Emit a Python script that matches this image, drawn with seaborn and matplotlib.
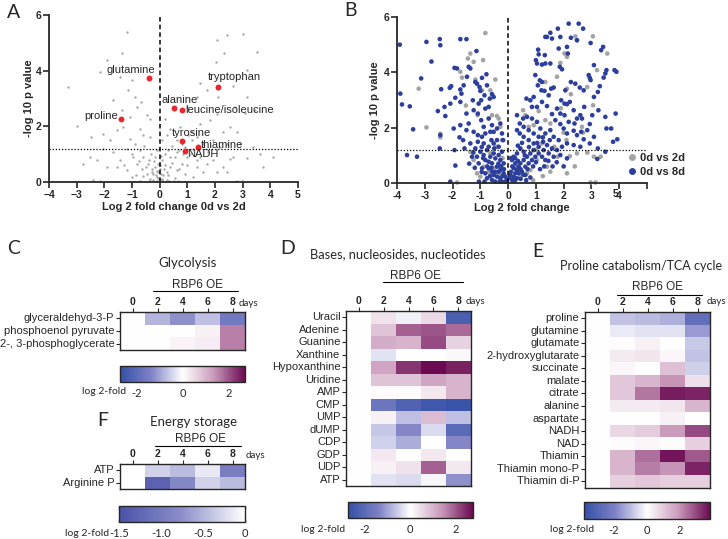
import numpy as np
import pandas as pd
import matplotlib
matplotlib.use('Agg')
import matplotlib.pyplot as plt
import seaborn as sns
from matplotlib.colors import LinearSegmentedColormap
from matplotlib.lines import Line2D

sns.set_style('ticks')
plt.rcParams['font.family'] = ['Liberation Sans', 'DejaVu Sans']
label_font = 'Lato'

# ---------------- volcano data ----------------
a_grey = [(-1.19, 5.4), (-1.89, 4.38), (-1.37, 4.65), (-3.3, 3.4), (-2.98, 2.0), (-2.49, 1.62), (-2.16, 3.96),
          (-1.43, 3.76), (-1.01, 3.66), (-1.13, 3.3), (-0.67, 2.88), (-0.47, 2.4), (-0.35, 2.28), (-0.71, 1.92),
          (2.42, 5.28), (3.02, 5.31), (2.06, 5.1), (3.51, 4.68), (2.33, 4.62), (2.02, 4.31), (3.14, 4.02),
          (2.66, 3.45), (3.08, 2.48), (2.06, 3.33), (2.12, 3.06), (1.46, 3.54), (1.7, 3.3), (1.34, 3.06),
          (0.98, 2.7), (0.5, 2.58), (0.19, 2.28), (0.37, 1.92), (0.73, 1.98), (1.16, 1.8), (1.46, 2.1),
          (1.94, 1.5), (2.18, 1.26), (2.66, 0.9), (3.14, 0.88), (3.63, 1.02), (2.06, 0.36), (2.79, 0.02),
          (2.96, 0.02), (2.54, 0.84), (1.46, 0.9), (1.34, 0.54), (1.7, 0.66), (0.98, 0.9), (0.92, 1.26),
          (1.16, 1.5), (0.61, 1.5), (0.31, 1.14), (0.55, 0.9), (0.8, 0.66), (0.37, 0.54), (0.25, 0.36),
          (0.13, 0.24), (0.01, 0.12), (-0.1, 0.18), (-0.23, 0.3), (-0.29, 0.48), (-0.41, 0.66), (-0.59, 0.9),
          (-0.71, 1.14), (-0.89, 1.38), (-1.07, 1.56), (-1.19, 1.2), (-0.95, 0.9), (-0.83, 0.66), (-0.65, 0.48),
          (-0.47, 0.3), (-0.35, 0.12), (-1.43, 0.78), (-1.67, 1.08), (-1.55, 0.54), (-1.19, 0.42), (-1.01, 0.18),
          (-2.16, 0.02), (-2.4, 0.06), (-1.8, 1.5), (-2.04, 1.74), (-1.31, 1.98), (-1.55, 1.86), (-0.1, 1.14),
          (-0.17, 0.9), (-0.05, 0.66), (0.1, 0.78), (0.19, 0.6), (0.61, 0.42), (0.92, 0.3), (1.22, 0.18),
          (1.58, 0.36), (0.5, 0.02), (-0.1, 0.02), (0.07, 0.06), (-0.23, 0.06), (0.25, 0.06), (-0.17, 0.54),
          (-0.29, 0.36), (-0.05, 0.36), (0.37, 0.9), (0.61, 1.08), (0.8, 1.38), (1.04, 1.68), (1.34, 1.62),
          (1.58, 1.38), (1.76, 1.08), (1.1, 1.02), (1.34, 0.78), (1.94, 0.78), (2.3, 0.54), (2.42, 0.36),
          (3.39, 1.26), (3.45, 2.58), (2.73, 2.7), (2.54, 1.98), (3.14, 3.06), (3.75, 0.54), (4.11, 0.9),
          (-2.52, 0.9), (-2.76, 0.66), (-2.28, 0.78), (-2.04, 1.2), (-1.92, 0.54), (-1.07, 2.34), (-0.83, 2.7),
          (-0.89, 3.06), (-1.67, 2.94), (-1.37, 2.58), (2.06, 2.46), (1.82, 2.22), (2.3, 1.8), (2.79, 1.8),
          (2.91, 1.38), (2.42, 1.38), (-0.6, 0.2), (-0.5, 0.55), (-0.4, 0.8), (-0.3, 1.0), (-0.2, 0.75),
          (-0.15, 0.25), (-0.05, 0.15), (0.05, 0.3), (0.15, 0.45), (0.3, 0.25), (0.45, 0.7), (0.55, 0.15),
          (0.7, 0.45), (0.85, 1.0), (0.2, 1.0), (0.05, 0.95), (-0.85, 0.25), (-0.75, 0.75), (-1.3, 0.6),
          (-0.55, 1.3), (0.45, 1.3), (0.7, 1.15), (-0.35, 1.6), (0.1, 1.5), (0.25, 1.7), (-0.6, 1.7),
          (1.0, 0.6), (1.2, 1.2), (-1.0, 1.0), (-0.4, 0.05), (0.35, 0.05), (0.65, 0.05), (-0.7, 0.05),
          (0.0, 0.45), (0.1, 0.1), (-0.1, 0.4), (0.02, 0.6)]

hit_names = ['glutamine', 'tryptophan', 'alanine', 'leucine/isoleucine', 'proline', 'tyrosine', 'thiamine', 'NADH']
hit_x = [-0.4, 2.1, 0.5, 0.8, -1.4, 0.8, 1.4, 0.9]
hit_y = [3.75, 3.42, 2.65, 2.6, 2.27, 1.47, 1.27, 1.1]
# label offsets in points, and alignment
hit_offsets = [(4.6, 5.5, 'right'), (-7, 7, 'left'), (-9, 6, 'left'), (2.3, 0, 'left'),
               (-1.9, 2.2, 'right'), (-7, 6, 'left'), (1.9, 1.2, 'left'), (2.2, -2.2, 'left')]

b_2d = [(-0.82, 5.42), (-1.36, 4.68), (-1.45, 4.5), (-1.24, 4.38), (-0.9, 4.44), (-0.46, 3.74), (-1.72, 4.02),
        (-1.66, 3.81), (-3.22, 3.41), (-2.94, 2.01), (-2.44, 1.65), (-1.18, 3.74), (-0.94, 3.35), (-0.64, 3.35),
        (-0.58, 2.45), (-0.4, 2.42), (-0.34, 2.33), (-0.28, 2.03), (-1.84, 0.02), (2.42, 5.3), (2.48, 5.16),
        (3.05, 5.3), (3.57, 4.68), (2.03, 4.68), (2.12, 4.56), (1.88, 4.34), (3.2, 4.08), (2.85, 3.47),
        (2.12, 3.41), (2.26, 3.21), (1.34, 3.65), (1.76, 3.84), (3.06, 2.81), (2.66, 2.03), (2.7, 1.82),
        (0.54, 2.63), (0.62, 2.45), (0.74, 2.03), (0.92, 2.09), (1.34, 2.27), (1.52, 2.15), (2.0, 1.82),
        (2.1, 1.55), (1.66, 1.31), (1.78, 0.95), (1.4, 0.59), (1.52, 0.41), (2.12, 0.35), (2.22, 0.97),
        (2.48, 1.07), (2.85, 1.1), (3.09, 0.95), (2.97, 0.02), (3.15, 0.02), (1.22, 1.43), (1.04, 0.83),
        (0.8, 0.47), (0.68, 0.35), (0.44, 0.23), (-0.22, 1.55), (-0.42, 1.31), (-0.64, 1.07), (-0.88, 0.59),
        (-1.12, 0.35), (-1.24, 0.83), (-1.36, 1.13), (-1.0, 0.23), (-0.52, 0.53), (-0.3, 0.29), (-0.04, 0.05),
        (0.2, 0.05), (3.33, 0.95), (-2.44, 1.78), (-1.52, 2.8), (-1.1, 2.45), (1.1, 2.6), (1.9, 2.7),
        (2.4, 0.6), (1.0, 1.2), (0.3, 0.6), (-0.2, 0.9), (-0.7, 0.4), (0.9, 0.1), (1.25, 0.25)]

b_8d = [(-3.9, 5.0), (-2.94, 5.1), (-2.46, 5.2), (-2.44, 4.98), (-1.72, 5.2), (-1.5, 5.2), (-1.14, 4.77),
        (-2.76, 4.39), (-3.88, 3.23), (-3.82, 2.84), (-3.54, 2.77), (-3.13, 3.78), (-3.42, 1.94), (-3.64, 1.01),
        (-3.28, 0.95), (-2.41, 3.39), (-2.53, 2.6), (-2.29, 2.75), (-2.44, 1.73), (-2.46, 1.25), (-2.1, 3.44),
        (-2.05, 3.5), (-1.93, 4.16), (-1.84, 4.14), (-1.9, 3.08), (-2.08, 2.87), (-2.26, 2.42), (-1.96, 1.97),
        (-1.93, 1.19), (-1.9, 0.63), (-2.08, 0.05), (-1.72, 3.38), (-1.68, 3.23), (-1.72, 2.93), (-1.6, 3.53),
        (-1.42, 4.2), (-1.36, 4.14), (-1.48, 3.84), (-1.5, 2.51), (-1.72, 2.09), (-1.75, 1.65), (-1.62, 1.55),
        (-1.57, 1.25), (-1.5, 1.91), (-1.42, 2.15), (-1.36, 1.43), (-1.27, 2.99), (-1.24, 2.63), (-1.18, 3.65),
        (-1.12, 3.59), (-1.03, 3.47), (-1.0, 3.33), (-0.94, 3.8), (-0.78, 3.93), (-0.85, 3.17), (-0.76, 3.53),
        (-0.66, 3.05), (-0.58, 3.21), (-0.52, 3.11), (-0.97, 2.99), (-1.06, 2.87), (-0.82, 2.69), (-0.7, 2.75),
        (-1.09, 2.51), (-0.97, 2.27), (-0.88, 2.03), (-0.7, 2.33), (-0.58, 2.09), (-1.24, 1.85), (-1.09, 1.73),
        (-0.94, 1.67), (-0.82, 1.79), (-0.64, 1.85), (-0.52, 1.85), (-0.4, 1.97), (-0.28, 2.15), (-0.22, 1.79),
        (-0.18, 1.55), (-1.09, 1.49), (-0.88, 1.43), (-0.7, 1.31), (-0.52, 1.43), (-0.4, 1.55), (-0.34, 1.31),
        (-1.0, 1.13), (-0.88, 1.01), (-0.76, 1.19), (-0.64, 0.95), (-0.52, 1.07), (-0.46, 0.89), (-0.34, 1.01),
        (-0.28, 0.83), (-0.58, 0.71), (-0.4, 0.59), (-0.28, 0.47), (-0.16, 0.35), (-0.1, 0.23), (-0.04, 0.11),
        (-1.06, 0.71), (-0.94, 0.53), (-0.82, 0.35), (-0.7, 0.53), (-0.58, 0.41), (-0.52, 0.29), (-0.4, 0.23),
        (-0.28, 0.17), (-0.82, 0.83), (-0.7, 0.77), (-1.12, 0.95), (-1.18, 1.25), (-0.22, 1.13), (-0.16, 0.71),
        (-0.34, 0.41), (-0.46, 0.05), (-0.76, 0.17), (-0.58, 0.11), (-0.22, 0.05),
        (-0.9, 0.9), (-0.75, 0.6), (-0.6, 0.55), (-0.45, 0.4), (-0.35, 0.7), (-0.25, 0.6), (-0.15, 0.5),
        (-0.2, 0.25), (-0.1, 0.05), (-0.3, 0.05), (-0.65, 0.25), (-0.95, 0.4), (-1.05, 0.05), (-0.85, 0.05),
        (-1.2, 0.55), (-1.3, 0.95), (-1.4, 0.7), (-0.5, 1.25), (-0.6, 1.55), (-0.95, 1.3), (-1.25, 1.1),
        (2.18, 5.76), (2.54, 5.76), (2.7, 5.58), (1.79, 5.58), (1.52, 5.43), (1.4, 5.28), (1.34, 5.28),
        (1.58, 5.22), (1.88, 5.28), (2.26, 5.25), (2.48, 5.16), (2.97, 5.06), (2.12, 4.92), (1.82, 4.86),
        (2.15, 4.68), (1.08, 4.82), (1.1, 4.65), (1.32, 4.62), (1.0, 4.44), (1.04, 4.32), (1.22, 4.28),
        (1.34, 4.32), (1.52, 4.32), (1.86, 4.2), (1.94, 4.11), (2.9, 3.9), (2.94, 3.8), (2.97, 3.72),
        (3.09, 4.26), (3.23, 3.29), (3.3, 3.5), (3.35, 4.8), (3.42, 4.92), (3.54, 4.08), (3.5, 3.96),
        (3.44, 3.81), (3.83, 4.08), (3.9, 4.02), (3.87, 2.51), (3.93, 1.58), (3.78, 1.49), (3.54, 1.97),
        (3.71, 1.97), (3.5, 2.39), (3.25, 2.63), (3.09, 3.11), (3.03, 2.45), (2.94, 2.13), (2.85, 1.91),
        (3.09, 1.67), (3.23, 1.25), (3.5, 1.13), (3.21, 0.87), (2.66, 2.33), (2.6, 2.45), (2.74, 2.75),
        (2.72, 3.35), (2.58, 3.45), (2.42, 3.59), (2.26, 3.65), (2.06, 3.35), (1.91, 2.99), (2.03, 2.87),
        (2.12, 2.85), (2.22, 2.93), (2.36, 2.63), (2.48, 2.33), (2.39, 2.15), (2.18, 2.21), (2.03, 2.45),
        (1.88, 2.51), (1.76, 2.69), (1.64, 3.45), (1.55, 3.41), (1.46, 3.17), (1.31, 3.33), (1.2, 3.35),
        (1.22, 3.65), (1.14, 3.71), (0.98, 3.9), (1.07, 3.53), (0.92, 3.11), (0.8, 2.99), (0.66, 3.05),
        (0.86, 2.75), (1.04, 2.75), (1.22, 2.93), (1.4, 2.78), (1.58, 2.49), (1.7, 2.27), (1.88, 2.13),
        (2.0, 1.97), (2.12, 1.79), (2.36, 1.89), (2.48, 1.73), (2.63, 1.85), (2.72, 1.58), (2.94, 1.43),
        (2.6, 1.31), (2.36, 1.37), (2.12, 1.43), (1.94, 1.31), (1.82, 1.55), (1.64, 1.67), (1.52, 1.91),
        (1.34, 1.79), (1.16, 1.97), (1.04, 2.21), (0.86, 2.33), (0.68, 2.39), (0.54, 2.33), (0.32, 2.45),
        (0.42, 2.15), (0.56, 2.03), (0.74, 1.91), (0.92, 1.79), (1.1, 1.67), (1.26, 1.49), (1.4, 1.37),
        (1.58, 1.25), (1.76, 1.19), (0.74, 1.55), (0.56, 1.67), (0.42, 1.79), (0.32, 1.91), (0.92, 1.43),
        (1.1, 1.31), (1.28, 1.19), (1.46, 1.07), (1.64, 0.95), (1.88, 1.01), (2.12, 0.89),
        (0.14, 0.11), (0.2, 0.23), (0.26, 0.35), (0.32, 0.47), (0.38, 0.59), (0.44, 0.71), (0.56, 0.83),
        (0.68, 0.95), (0.8, 1.07), (0.92, 1.19), (0.26, 0.71), (0.2, 0.95), (0.14, 0.83), (0.32, 1.07),
        (0.44, 1.25), (0.56, 1.13), (0.62, 0.59), (0.74, 0.71), (0.86, 0.83), (0.98, 0.95), (1.1, 1.07),
        (1.22, 0.95), (1.34, 0.83), (0.38, 0.35), (0.5, 0.41), (0.62, 0.29), (0.32, 0.17), (0.08, 0.29),
        (0.2, 0.53), (0.1, 0.4), (0.15, 0.6), (0.25, 0.9), (0.35, 0.8), (0.45, 0.5), (0.55, 0.3), (0.7, 0.5),
        (0.8, 0.2), (0.9, 0.6), (1.0, 0.75), (1.15, 0.5), (1.3, 0.6), (1.45, 0.8), (1.6, 0.6), (1.75, 0.75),
        (2.0, 0.6), (0.6, 1.0), (0.75, 1.3), (0.5, 1.45), (0.35, 1.35), (1.05, 1.45), (1.25, 1.65),
        (1.5, 1.55), (0.1, 0.9), (0.05, 0.2), (0.25, 0.1), (0.45, 0.15), (0.65, 0.1)]

# ---------------- heatmap data (log 2-fold vs day 0) ----------------
days = ['0', '2', '4', '6', '8']

glyco_rows = ['glyceraldehyd-3-P', 'phosphoenol pyruvate', '2-, 3-phosphoglycerate']
glyco_vals = [[0, -0.8, -1.2, -0.7, -1.6],
              [0, 0.0, 0.0, 0.2, 1.6],
              [0, 0.0, 0.15, 0.25, 1.6]]

nuc_rows = ['Uracil', 'Adenine', 'Guanine', 'Xanthine', 'Hypoxanthine', 'Uridine', 'AMP', 'CMP',
            'UMP', 'dUMP', 'CDP', 'GDP', 'UDP', 'ATP']
nuc_vals = [[0, 0.4, -0.15, 0.5, -2.3],
            [0, 0.8, 1.9, 2.0, 1.8],
            [0, 1.1, 1.0, 2.1, 0.6],
            [0, -0.3, 0.0, 0.0, 0.1],
            [0, 1.2, 2.3, 2.7, 2.5],
            [0, 0.8, 0.8, 1.2, 1.0],
            [0, 0.05, 0.05, 0.3, 1.0],
            [0, -1.7, -2.2, -2.5, -2.6],
            [0, 0.2, -0.7, 0.9, -0.7],
            [0, -0.6, -1.3, -0.4, -2.0],
            [0, -0.5, -0.9, 0.0, -1.3],
            [0, 0.3, 0.0, 0.3, 0.0],
            [0, 0.2, 0.4, 1.9, 0.3],
            [0, -0.3, -0.4, -0.1, -1.2]]

tca_rows = ['proline', 'glutamine', 'glutamate', '2-hydroxyglutarate', 'succinate', 'malate', 'citrate',
            'alanine', 'aspartate', 'NADH', 'NAD', 'Thiamin', 'Thiamin mono-P', 'Thiamin di-P']
tca_vals = [[0, -0.9, -1.0, -1.2, -2.6],
            [0, -0.3, -0.4, -0.4, -1.5],
            [0, 0.1, 0.3, 0.05, -0.8],
            [0, 0.4, 0.5, 0.2, -0.9],
            [0, 0.2, 0.0, 1.2, -0.7],
            [0, 1.1, 1.4, 2.0, 0.6],
            [0, 1.1, 2.4, 3.6, 3.5],
            [0, 0.4, 0.4, 0.5, 1.4],
            [0, 0.0, 0.05, 0.3, 0.0],
            [0, 0.8, 1.0, 1.9, 3.0],
            [0, 0.1, 0.2, 0.1, 0.9],
            [0, 1.4, 2.5, 3.7, 2.8],
            [0, 1.4, 2.3, 2.0, 3.5],
            [0, 0.9, 1.1, 0.9, 0.9]]

energy_rows = ['ATP', 'Arginine P']
energy_vals = [[0, -0.3, -0.45, -0.15, -0.95],
               [0, -1.3, -0.85, -0.3, -0.45]]

# ---------------- layout helpers (pixel coordinates) ----------------
W, H = 728, 539
fig = plt.figure(figsize=(W / 100, H / 100), dpi=100)


def rect(x0, y0, x1, y1):
    return [x0 / W, 1 - y1 / H, (x1 - x0) / W, (y1 - y0) / H]


def ftext(x, y, s, **kw):
    kw.setdefault('va', 'center')
    fig.text(x / W, 1 - y / H, s, **kw)


def hline(x0, x1, y):
    fig.add_artist(Line2D([x0 / W, x1 / W], [1 - y / H, 1 - y / H], color='black', lw=0.8))


div_cmap = LinearSegmentedColormap.from_list('bw', ['#3450a6', '#7f82c6', '#ffffff', '#c99abb', '#6b0a52'])
blue_cmap = LinearSegmentedColormap.from_list('bl', ['#4a52a8', '#8c8fca', '#ffffff'])

tick_kw = dict(fontsize=7.5, fontweight='bold')


def style_volcano(ax, xlabel, ylab_x):
    ax.set_xlim(-4, 5)
    ax.set_ylim(0, 6)
    ax.set_xticks(range(-4, 6))
    ax.set_yticks([0, 2, 4, 6])
    for s in ['top', 'right']:
        ax.spines[s].set_visible(False)
    for s in ['left', 'bottom']:
        ax.spines[s].set_linewidth(1.3)
    ax.tick_params(length=4, width=1.2, pad=1.5, labelsize=7.5)
    for lab in ax.get_xticklabels() + ax.get_yticklabels():
        lab.set_fontweight('bold')
    ax.axhline(1.2, color='black', ls=(0, (1, 1.5)), lw=0.9)
    ax.axvline(0, color='black', ls=(0, (3, 2)), lw=1.1)
    ax.set_xlabel(xlabel, fontsize=8, fontweight='bold', labelpad=2)
    ax.set_ylabel('-log 10 p value', fontsize=8, fontweight='bold')
    ax.yaxis.set_label_coords(ylab_x, 0.5)


# ---------------- panel A ----------------
axA = fig.add_axes(rect(49, 15, 298, 182))
sns.scatterplot(x=[p[0] for p in a_grey], y=[p[1] for p in a_grey], ax=axA, color='#a8a8a8',
                s=3, linewidth=0, clip_on=False)
sns.scatterplot(x=hit_x, y=hit_y, ax=axA, color='#e8262b', s=18, linewidth=0, zorder=5)
for name, x, y, (dx, dy, ha) in zip(hit_names, hit_x, hit_y, hit_offsets):
    axA.annotate(name, (x, y), xytext=(dx, dy), textcoords='offset points', ha=ha, va='center',
                 fontsize=8, zorder=6)
style_volcano(axA, 'Log 2 fold change 0d vs 2d', -0.06)

# ---------------- panel B ----------------
axB = fig.add_axes(rect(397, 17, 647, 183))
df_b = pd.concat([
    pd.DataFrame({'fc': [p[0] for p in b_2d], 'p': [p[1] for p in b_2d], 'comparison': '0d vs 2d'}),
    pd.DataFrame({'fc': [p[0] for p in b_8d], 'p': [p[1] for p in b_8d], 'comparison': '0d vs 8d'}),
])
sns.scatterplot(data=df_b, x='fc', y='p', hue='comparison', ax=axB,
                palette={'0d vs 2d': '#a3a3a3', '0d vs 8d': '#2c3f9c'}, s=11, linewidth=0, clip_on=False)
style_volcano(axB, 'Log 2 fold change', -0.068)
axB.set_xticks(range(-4, 6))
axB.set_xticklabels([str(v) for v in range(-4, 5)] + [''])
for lab in axB.get_xticklabels():
    lab.set_fontweight('bold')
axB.text(3.87, -0.22, '5', ha='center', va='top', **tick_kw)
leg = axB.legend(loc='center left', bbox_to_anchor=(0.9, 0.108), frameon=False, handletextpad=0.2,
                 labelspacing=0.35, borderaxespad=0, handlelength=1.0,
                 prop={'weight': 'bold', 'size': 8})
for h in leg.legend_handles:
    h.set_markersize(5)

# ---------------- heatmaps ----------------


def heat(hrect, crect, rows, vals, cmap, vmin, vmax, cticks, clabels):
    ax = fig.add_axes(rect(*hrect))
    cax = fig.add_axes(rect(*crect))
    df = pd.DataFrame(vals, index=rows, columns=days)
    sns.heatmap(df, ax=ax, cbar_ax=cax, cmap=cmap, vmin=vmin, vmax=vmax,
                cbar_kws={'orientation': 'horizontal', 'ticks': cticks})
    ax.xaxis.tick_top()
    ax.set_xticks(np.arange(len(days)) + 0.5)
    ax.set_xticklabels(days, **tick_kw)
    ax.set_yticks(np.arange(len(rows)) + 0.5)
    ax.set_yticklabels(rows, rotation=0, fontsize=8)
    ax.tick_params(axis='y', length=3, width=0.8, pad=1)
    ax.tick_params(axis='x', length=3, width=0.8, pad=0.5)
    ax.set_xlabel('')
    ax.set_ylabel('')
    for s in ax.spines.values():
        s.set_visible(True)
        s.set_linewidth(1)
    cax.tick_params(direction='in', length=2.5, width=1, top=True, bottom=True, pad=4)
    cax.set_xticklabels(clabels, fontsize=8, family=label_font)
    ax.collections[0].colorbar.outline.set_linewidth(1)
    return ax


heat((120, 312, 245, 350), (120, 366, 245, 382), glyco_rows, glyco_vals, div_cmap, -2.72, 2.72,
     [-2, 0, 2], ['-2', '0', '2'])
heat((346, 311, 471, 486), (348, 502, 472.5, 518), nuc_rows, nuc_vals, div_cmap, -2.72, 2.72,
     [-2, 0, 2], ['-2', '0', '2'])
heat((585, 312, 710, 487.5), (584, 502, 710, 519), tca_rows, tca_vals, div_cmap, -3.8, 3.85,
     [-2, 0, 2], ['-2', '0', '2'])
heat((120, 464, 245, 489), (119, 506, 245, 522), energy_rows, energy_vals, blue_cmap, -1.5, 0,
     [-1.5, -1.0, -0.5, 0], ['-1.5', '-1.0', '-0.5', '0'])

# ---------------- annotations ----------------
letter_kw = dict(fontsize=14, family=label_font)
ftext(7, 12, 'A', **letter_kw)
ftext(344, 11, 'B', **letter_kw)
ftext(7, 248, 'C', **letter_kw)
ftext(280, 249, 'D', **letter_kw)
ftext(532, 252, 'E', **letter_kw)
ftext(97, 420, 'F', **letter_kw)

title_kw = dict(family=label_font)
ftext(188, 263, 'Glycolysis', ha='center', fontsize=9.5, **title_kw)
ftext(310, 254, 'Bases, nucleosides, nucleotides', ha='left', fontsize=9.3, **title_kw)
ftext(560, 266, 'Proline catabolism/TCA cycle', ha='left', fontsize=9, **title_kw)
ftext(194, 422, 'Energy storage', ha='center', fontsize=9.5, **title_kw)

for cx, ty, x0, x1, ly in [(197, 285.5, 153, 238, 291), (415, 276, 383, 463, 281.7),
                           (658, 287, 617, 702, 295), (200, 439, 155, 241, 445.7)]:
    ftext(cx, ty, 'RBP6 OE', ha='center', fontsize=8.5)
    hline(x0, x1, ly)

for x, y in [(239, 303), (466, 302), (707, 302), (246, 455)]:
    ftext(x, y, 'days', ha='left', fontsize=7, family=label_font)

for x, y in [(104, 392), (323, 530), (572, 530), (87, 533)]:
    ftext(x, y, 'log 2-fold', ha='center', fontsize=7.5, family=label_font)

fig.savefig('out.png', dpi=100)
